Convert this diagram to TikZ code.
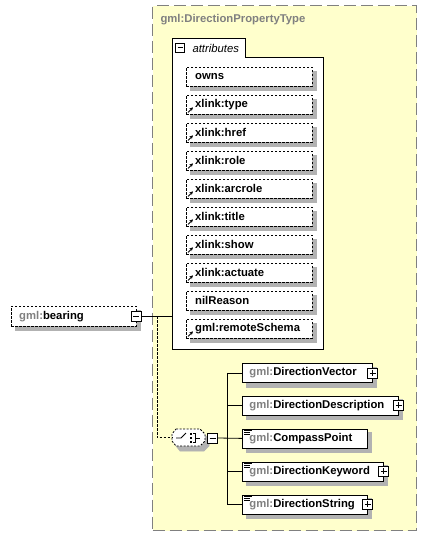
\documentclass[tikz,border=0pt]{standalone}
\usepackage{fontspec}
\setmainfont{Liberation Sans}
\usetikzlibrary{arrows.meta}
\definecolor{yel}{RGB}{255,255,204}
\definecolor{shadowgray}{rgb}{0.7,0.7,0.7}
\definecolor{gtx}{RGB}{128,128,128}
\definecolor{bord}{RGB}{128,128,128}
\newcommand\gm{\textcolor{gtx}{gml:}}
\begin{document}
\begin{tikzpicture}[x=1pt,y=-1pt,
  every node/.style={font=\fontsize{11.3}{13}\selectfont\bfseries},
  attr/.style={draw, dash pattern=on 2.5pt off 1.5pt, fill=white,
    minimum height=19, anchor=north west, inner xsep=9, inner ysep=0,
    text width=108, align=left},
  child/.style={draw, fill=white, line width=0.8pt,
    minimum height=19, anchor=north west, inner xsep=7, inner ysep=0, align=left},
  minusbox/.style={draw, fill=white, minimum size=10, inner sep=0, line width=0.8pt,
    path picture={\draw[line width=0.8pt] ([xshift=2pt]path picture bounding box.west) -- ([xshift=-2pt]path picture bounding box.east);}},
  plusbox/.style={draw, fill=white, minimum size=10, inner sep=0, line width=0.8pt,
    path picture={\draw[line width=0.8pt] ([xshift=2pt]path picture bounding box.west) -- ([xshift=-2pt]path picture bounding box.east)
      ([yshift=-2pt]path picture bounding box.north) -- ([yshift=2pt]path picture bounding box.south);}},
  conn/.style={line width=0.8pt},
  link/.style={-{Stealth[length=3.5pt,width=3.5pt]}, line width=0.9pt},
  shadowfill/.style={fill=shadowgray, draw=shadowgray, line width=0.5pt}
]
\useasboundingbox (0,0) rectangle (426,536);
% type container
\node[draw=bord, line width=1.2pt, dash pattern=on 12pt off 5pt, fill=yel,
  minimum width=264, minimum height=525, anchor=north west, inner sep=0] (type) at (152,5) {};
\node[anchor=base west, text=gtx] (typename) at (157,22) {gml:DirectionPropertyType};

% attributes container
\node[draw, fill=white, line width=0.8pt, minimum width=151, minimum height=292,
  anchor=north west, inner sep=0] (attrs) at (172,57) {};
\fill[white] (172.5,38.5) rectangle (244.5,57.6);
\draw[line width=0.8pt] (attrs.north west) -- ++(0,-19) -- ++(73,0) -- ++(0,19);
\node[minusbox, minimum size=9] (attrminus) at (180,47.5) {};
\node[anchor=base west, font=\fontsize{11.3}{13}\selectfont\itshape] (attrlabel) at (189,52) {attributes};

\foreach \i in {0,...,9}{
  \filldraw[shadowfill] (190,71+28*\i) rectangle (316,90+28*\i);
}
\foreach \t [count=\i from 0] in {owns,xlink:type,xlink:href,xlink:role,xlink:arcrole,xlink:title,xlink:show,xlink:actuate,nilReason,gml:remoteSchema}{
  \node[attr] (a\i) at (186,67+28*\i) {\t};
}
\foreach \i in {1,...,7,9}{
  \draw[link] ([xshift=2pt,yshift=2pt]a\i.south west) -- ++(5,-5);
}

% bearing element
\filldraw[shadowfill] (15,310) rectangle (140,330);
\node[draw, dash pattern=on 2.5pt off 1.5pt, fill=white, minimum height=20,
  text width=109, inner xsep=8, inner ysep=0, align=left, anchor=north west] (bearing) at (11,306) {\gm bearing};
\node[minusbox] (bminus) at (bearing.east) {};
\coordinate (j1) at (157,316);
\draw[conn] (bminus.east) -- (attrs.west |- bminus.east);

% choice compositor
\filldraw[shadowfill] (176+4,429+5) -- (200+4,429+5) -- (205+4,434+5) -- (205+4,441+5) -- (200+4,446+5) -- (176+4,446+5) -- (172+4,441+5) -- (172+4,434+5) -- cycle;
\node[minimum width=33, minimum height=17, inner sep=0] (choice) at (188.5,437.5) {};
\draw[fill=white, dash pattern=on 2pt off 1.5pt, line width=0.8pt]
  (176,429) -- (200,429) -- (205,434) -- (205,441) -- (200,446) -- (176,446) -- (172,441) -- (172,434) -- cycle;
\draw[line width=0.8pt] (176,438) -- (181,438) -- (186,433);
\fill (189.5,432.5) rectangle (192,435);
\fill (189.5,436.5) rectangle (192,439);
\fill (189.5,440.5) rectangle (192,443);
\draw[line width=0.8pt] (193,433.5) -- (195.5,433.5) -- (195.5,442) -- (193,442);
\draw[line width=0.8pt] (195.5,438) -- (200,438);
\node[minusbox] (cminus) at (212.5,438) {};
\draw[conn, dash pattern=on 2.5pt off 1.5pt] (j1) |- (choice.west);

% children (shadows first)
\filldraw[shadowfill] (246,367) rectangle (376,387);
\filldraw[shadowfill] (246,399.5) rectangle (402,419.5);
\filldraw[shadowfill] (246,432.5) rectangle (371,452.5);
\filldraw[shadowfill] (246,465.5) rectangle (387,485.5);
\filldraw[shadowfill] (246,498.5) rectangle (371,518.5);
\node[child, text width=116] (dv) at (242,363) {\gm DirectionVector};
\node[child, text width=142] (dd) at (242,395.5) {\gm DirectionDescription};
\node[child, text width=111] (cp) at (242,428.5) {\gm CompassPoint};
\node[child, text width=127] (dk) at (242,461.5) {\gm DirectionKeyword};
\node[child, text width=111] (ds) at (242,494.5) {\gm DirectionString};
\node[plusbox] (dvp) at (dv.east) {};
\node[plusbox] (ddp) at (dd.east) {};
\node[plusbox] (dkp) at (dk.east) {};
\node[plusbox] (dsp) at (ds.east) {};
\foreach \n in {cp,dk,ds}{
  \draw[line width=0.7pt] ([xshift=2pt,yshift=-2pt]\n.north west) -- ++(8,0);
  \draw[line width=0.7pt] ([xshift=2pt,yshift=-4pt]\n.north west) -- ++(6,0);
  \draw[line width=0.7pt] ([xshift=2pt,yshift=-6pt]\n.north west) -- ++(6,0);
}
\coordinate (j2) at (227,438);
\draw[conn] (cminus.east) -- (cp.west);
\draw[conn] (j2 |- dv.west) -- (j2 |- ds.west);
\foreach \n in {dv,dd,dk,ds}{ \draw[conn] (j2 |- \n.west) -- (\n.west); }
\end{tikzpicture}
\end{document}
